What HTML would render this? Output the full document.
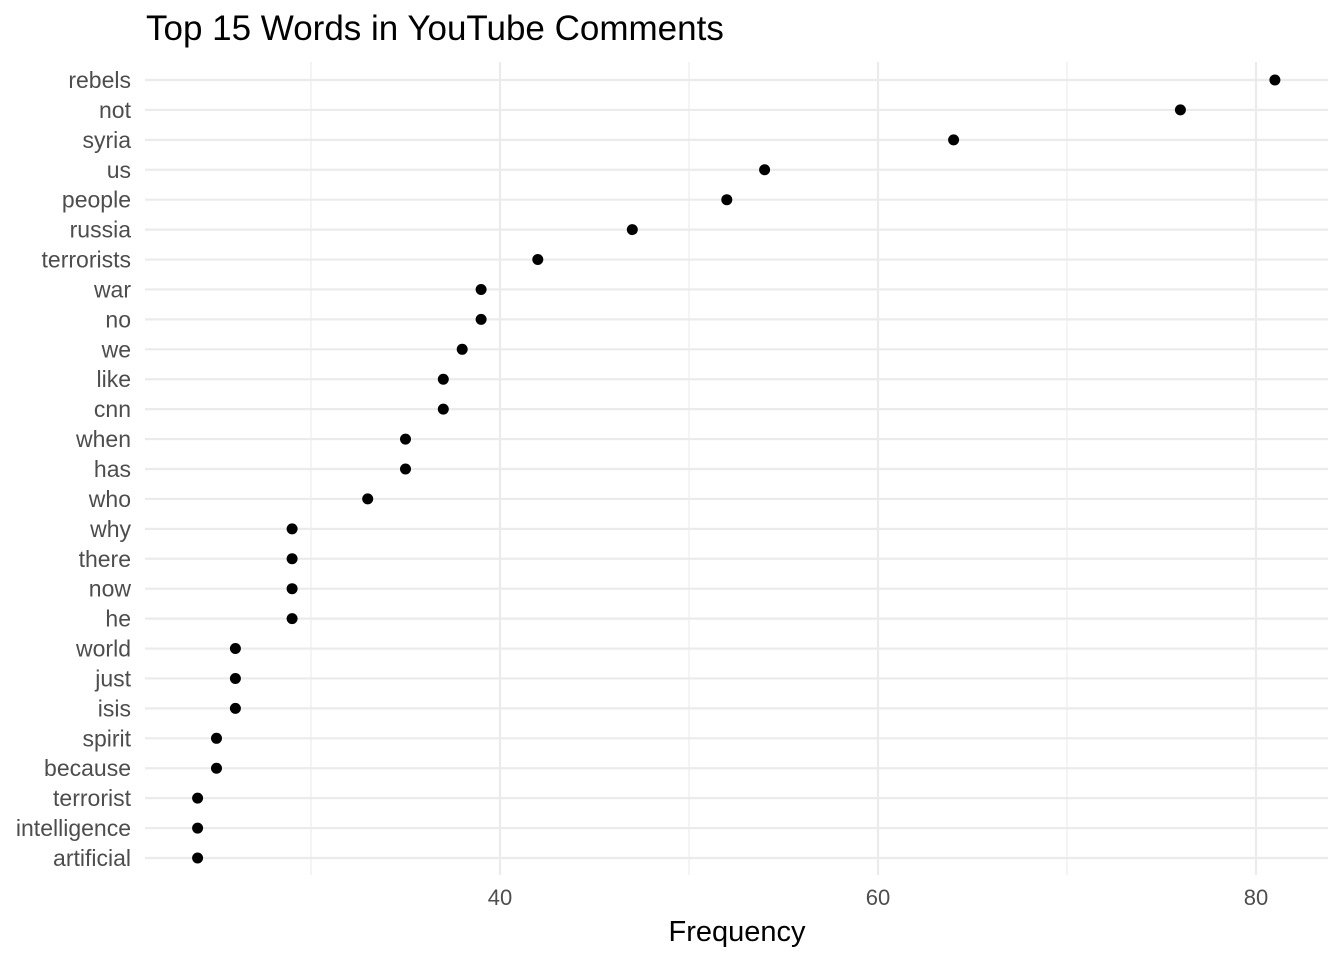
<!DOCTYPE html>
<html><head><meta charset="utf-8"><style>
html,body{margin:0;padding:0;background:#fff;}
svg{display:block;font-family:"Liberation Sans",Arial,sans-serif;}
</style></head><body>
<svg id="chart" width="1344" height="960">
<text x="146" y="40" font-size="35" fill="#000">Top 15 Words in YouTube Comments</text>
<g id="grid"></g><g id="ylabels"></g><g id="xlabels"></g><g id="points"></g>
<text x="737" y="941" font-size="29" fill="#000" text-anchor="middle">Frequency</text>
</svg>
<script>
const words = ["rebels","not","syria","us","people","russia","terrorists","war","no","we","like","cnn","when","has","who","why","there","now","he","world","just","isis","spirit","because","terrorist","intelligence","artificial"];
const counts = [81,76,64,54,52,47,42,39,39,38,37,37,35,35,33,29,29,29,29,26,26,26,25,25,24,24,24];
const majorTicks = [40,60,80];
const minorTicks = [30,50,70];
const NS="http://www.w3.org/2000/svg";
const L=145,R=1328,T=62,B=875;
function xs(v){return 500+(v-40)*(1256-500)/40;}
function ys(i){return 80+i*(858-80)/(words.length-1);}
function mk(tag,attrs,parent){const e=document.createElementNS(NS,tag);for(const k in attrs)e.setAttribute(k,attrs[k]);document.getElementById(parent).appendChild(e);return e;}
minorTicks.forEach(t=>{const e=mk('line',{x1:xs(t),x2:xs(t),y1:T,y2:B,stroke:'#ebebeb','stroke-width':1.1},'grid');

});
majorTicks.forEach(t=>{const e=mk('line',{x1:xs(t),x2:xs(t),y1:T,y2:B,stroke:'#ebebeb','stroke-width':2.2},'grid');


const tx=mk('text',{x:xs(t),y:905,'font-size':22,fill:'#4d4d4d','text-anchor':'middle'},'xlabels');tx.textContent=t;

});
words.forEach((w,i)=>{const y=ys(i);
const g=mk('line',{x1:L,x2:R,y1:y,y2:y,stroke:'#ebebeb','stroke-width':2.2},'grid');


const t=mk('text',{x:131,y:y+8,'font-size':23,fill:'#4d4d4d','text-anchor':'end'},'ylabels');t.textContent=w;


const c=mk('circle',{cx:xs(counts[i]),cy:y,r:5.5,fill:'#000'},'points');

});
</script>
</body></html>
